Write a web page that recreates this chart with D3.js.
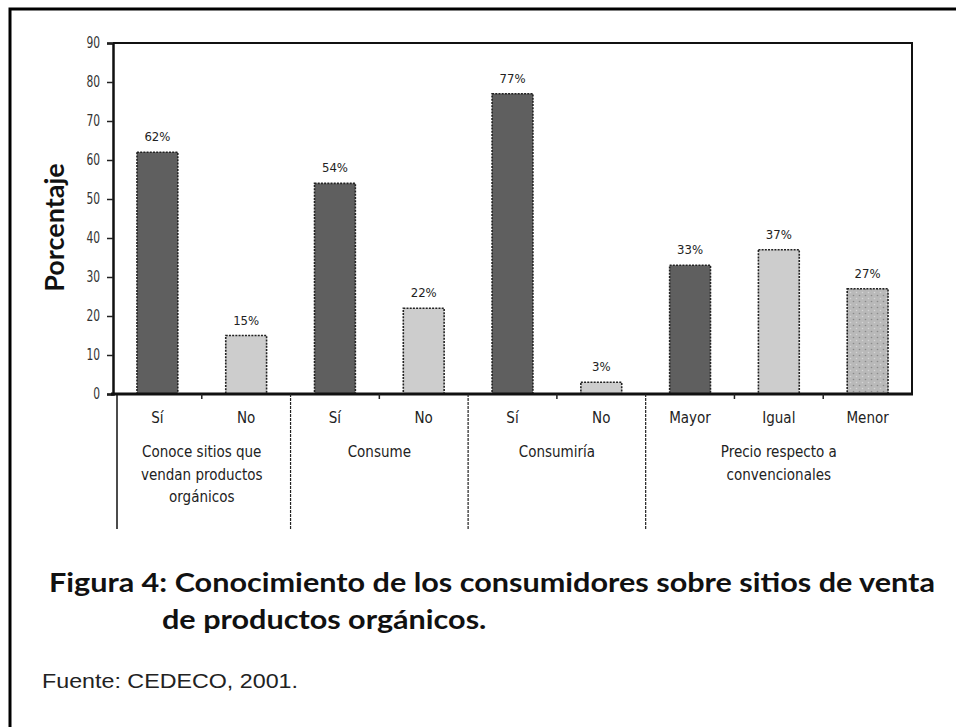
<!DOCTYPE html>
<html>
<head>
<meta charset="utf-8">
<script src="https://cdn.jsdelivr.net/npm/d3@7"></script>
<style>
  html, body { margin: 0; padding: 0; background: #fff; }
  svg { display: block; }
  .narrow { font-family: "Liberation Sans Narrow", "DejaVu Sans Condensed", "Roboto Condensed", sans-serif; }
</style>
</head>
<body>
<svg id="chart" width="956" height="727"></svg>
<script>
// Survey answers (percent of consumers) grouped by question
const categories = ["Sí", "No", "Sí", "No", "Sí", "No", "Mayor", "Igual", "Menor"];
const values = [62, 15, 54, 22, 77, 3, 33, 37, 27];
const valueLabels = ["62%", "15%", "54%", "22%", "77%", "3%", "33%", "37%", "27%"];
const fillKinds = ["dark", "light", "dark", "light", "dark", "light", "dark", "light", "dotted"];
const groups = [
  { lines: ["Conoce sitios que", "vendan productos", "orgánicos"], from: 0, to: 2 },
  { lines: ["Consume"], from: 2, to: 4 },
  { lines: ["Consumiría"], from: 4, to: 6 },
  { lines: ["Precio respecto a", "convencionales"], from: 6, to: 9 }
];
const yTicks = [0, 10, 20, 30, 40, 50, 60, 70, 80, 90];
const yTitle = "Porcentaje";
const titleLines = ["Figura 4: Conocimiento de los consumidores sobre sitios de venta", "de productos orgánicos."];
const sourceText = "Fuente: CEDECO, 2001.";

const svg = d3.select("#chart");
const plot = { left: 113, right: 912, top: 43, bottom: 394 };

// page frame
svg.append("path")
  .attr("d", `M10,727 L10,9 L956,9`)
  .attr("fill", "none").attr("stroke", "#000").attr("stroke-width", 3);

const idx = d3.range(categories.length);
const x = d3.scaleBand().domain(idx).range([plot.left, plot.right]).paddingInner(0.54).paddingOuter(0.27);
const edge = i => plot.left + i * (plot.right - plot.left) / categories.length;
const y = d3.scaleLinear().domain([0, 90]).range([plot.bottom, plot.top]);

// dotted fill for the last bar
const defs = svg.append("defs");
const pat = defs.append("pattern").attr("id", "dots").attr("width", 6).attr("height", 6).attr("patternUnits", "userSpaceOnUse");
pat.append("rect").attr("width", 6).attr("height", 6).attr("fill", "#b9b9b9");
pat.append("circle").attr("cx", 1.5).attr("cy", 1.5).attr("r", 0.8).attr("fill", "#8a8a8a");
pat.append("circle").attr("cx", 4.5).attr("cy", 4.5).attr("r", 0.8).attr("fill", "#d6d6d6");

const fills = { dark: "#5f5f5f", light: "#cdcdcd", dotted: "url(#dots)" };

// plot frame (top and right)
svg.append("path")
  .attr("d", `M${plot.left},${plot.top} L${plot.right},${plot.top} L${plot.right},${plot.bottom}`)
  .attr("fill", "none").attr("stroke", "#111").attr("stroke-width", 2);

// y axis
const yAxis = d3.axisLeft(y).tickValues(yTicks).tickSize(6).tickPadding(5);
const gy = svg.append("g").attr("transform", `translate(${plot.left},0)`).call(yAxis);
gy.select(".domain").attr("stroke", "#111").attr("stroke-width", 2.5);
gy.selectAll(".tick line").attr("stroke", "#222").attr("stroke-width", 1.5);
gy.selectAll(".tick text").attr("class", "narrow").attr("font-size", 14).attr("fill", "#333")
  .attr("transform", "scale(0.85,1.1)").attr("x", -13 / 0.85);

// y axis title
svg.append("text")
  .attr("transform", `translate(64,${(plot.top + plot.bottom) / 2 + 9}) rotate(-90)`)
  .attr("text-anchor", "middle")
  .attr("font-family", "Lato, 'Open Sans', sans-serif")
  .attr("font-weight", "bold").attr("font-size", 27).attr("fill", "#111")
  .text(yTitle);

// bars
svg.append("g").selectAll("rect").data(idx).join("rect")
  .attr("x", i => x(i))
  .attr("y", i => y(values[i]))
  .attr("width", x.bandwidth())
  .attr("height", i => y(0) - y(values[i]))
  .attr("fill", i => fills[fillKinds[i]])
  .attr("stroke", "#222").attr("stroke-width", 1.6).attr("stroke-dasharray", "2,1.2");

// value labels
svg.append("g").selectAll("text").data(idx).join("text")
  .attr("class", "narrow")
  .attr("x", i => x(i) + x.bandwidth() / 2)
  .attr("y", i => y(values[i]) - 11)
  .attr("text-anchor", "middle").attr("font-size", 13).attr("fill", "#222")
  .text(i => valueLabels[i]);

// x axis line
svg.append("line")
  .attr("x1", plot.left - 2).attr("x2", plot.right + 1)
  .attr("y1", plot.bottom).attr("y2", plot.bottom)
  .attr("stroke", "#111").attr("stroke-width", 3);

// small ticks between bars inside a group
const innerTicks = idx.slice(1).filter(i => !groups.some(g => g.from === i));
svg.append("g").selectAll("line").data(innerTicks).join("line")
  .attr("x1", i => edge(i)).attr("x2", i => edge(i))
  .attr("y1", plot.bottom).attr("y2", plot.bottom + 5)
  .attr("stroke", "#222").attr("stroke-width", 1.5);

// group separators
svg.append("line")
  .attr("x1", plot.left + 4).attr("x2", plot.left + 4)
  .attr("y1", plot.bottom).attr("y2", 529)
  .attr("stroke", "#111").attr("stroke-width", 1.5);
svg.append("g").selectAll("line").data(groups.slice(1)).join("line")
  .attr("x1", g => edge(g.from)).attr("x2", g => edge(g.from))
  .attr("y1", plot.bottom).attr("y2", 529)
  .attr("stroke", "#222").attr("stroke-width", 1.2).attr("stroke-dasharray", "3,1");

// category labels
svg.append("g").selectAll("text").data(idx).join("text")
  .attr("class", "narrow")
  .attr("x", i => x(i) + x.bandwidth() / 2)
  .attr("y", 423)
  .attr("text-anchor", "middle").attr("font-size", 15).attr("fill", "#222")
  .text(i => categories[i]);

// group labels
const gl = svg.append("g").selectAll("text").data(groups).join("text")
  .attr("class", "narrow")
  .attr("text-anchor", "middle").attr("font-size", 15).attr("fill", "#222");
gl.each(function (g) {
  const cx = (edge(g.from) + edge(g.to)) / 2;
  d3.select(this).selectAll("tspan").data(g.lines).join("tspan")
    .attr("x", cx)
    .attr("y", (d, k) => 457 + k * 22.5)
    .text(d => d);
});

// caption: first line stretched across the page, second line with the same stretch
const capStyle = sel => sel
  .attr("font-family", "Lato, 'Open Sans', sans-serif")
  .attr("font-weight", "bold").attr("font-size", 26.5).attr("fill", "#111");
const cap1 = svg.append("text").call(capStyle).attr("x", 49).attr("y", 592).text(titleLines[0]);
const cap2 = svg.append("text").call(capStyle).attr("x", 162).attr("y", 629).text(titleLines[1]);
const stretch = 886 / cap1.node().getComputedTextLength();
cap1.attr("textLength", 886).attr("lengthAdjust", "spacingAndGlyphs");
cap2.attr("textLength", cap2.node().getComputedTextLength() * stretch).attr("lengthAdjust", "spacingAndGlyphs");

svg.append("text")
  .attr("x", 42).attr("y", 688)
  .attr("font-family", "'Liberation Sans', Arial, sans-serif")
  .attr("font-size", 21).attr("fill", "#222")
  .attr("textLength", 256).attr("lengthAdjust", "spacingAndGlyphs")
  .text(sourceText);
</script>
</body>
</html>
